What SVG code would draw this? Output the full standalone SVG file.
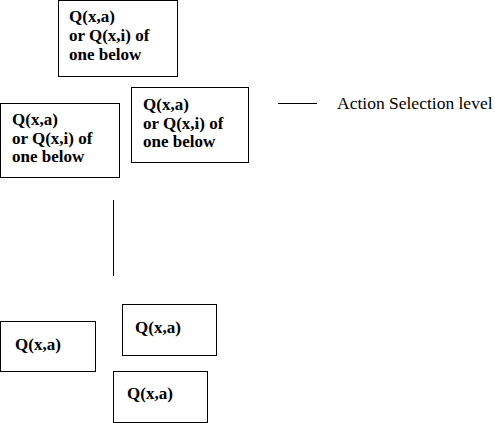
<svg xmlns="http://www.w3.org/2000/svg" width="495" height="423" viewBox="0 0 495 423">
<style>
.box{fill:#fff;stroke:#000;stroke-width:1}
.t{font-family:"Liberation Serif","Times New Roman",serif;font-size:17px;font-weight:bold;fill:#000}
.n{font-family:"Liberation Serif","Times New Roman",serif;font-size:17.5px;fill:#000}
.ln{stroke:#000;stroke-width:1;fill:none}
</style>
<rect width="495" height="423" fill="#fff"/>
<g id="node1"><rect class="box" x="58.5" y="0.5" width="119" height="76"/>
<text class="t" x="69" y="22">Q(x,a)</text><text class="t" x="69" y="41">or Q(x,i) of</text><text class="t" x="69" y="60">one below</text></g>
<g id="node2"><rect class="box" x="0.5" y="103.5" width="119" height="74"/>
<text class="t" x="12" y="125">Q(x,a)</text><text class="t" x="12" y="143.5">or Q(x,i) of</text><text class="t" x="12" y="162">one below</text></g>
<g id="node3"><rect class="box" x="131.5" y="87.5" width="117" height="75"/>
<text class="t" x="143" y="110">Q(x,a)</text><text class="t" x="143" y="129">or Q(x,i) of</text><text class="t" x="143" y="147">one below</text></g>
<g id="node4"><rect class="box" x="0.5" y="321.5" width="95" height="50"/>
<text class="t" x="15" y="350">Q(x,a)</text></g>
<g id="node5"><rect class="box" x="122.5" y="304.5" width="94" height="51"/>
<text class="t" x="135" y="333">Q(x,a)</text></g>
<g id="node6"><rect class="box" x="113.5" y="371.5" width="94" height="51"/>
<text class="t" x="127" y="399">Q(x,a)</text></g>
<g id="connectors">
<line class="ln" x1="278" y1="103.5" x2="317" y2="103.5"/>
<line class="ln" x1="113.5" y1="200" x2="113.5" y2="276"/>
</g>
<text class="n" x="337" y="109">Action Selection level</text>
</svg>
